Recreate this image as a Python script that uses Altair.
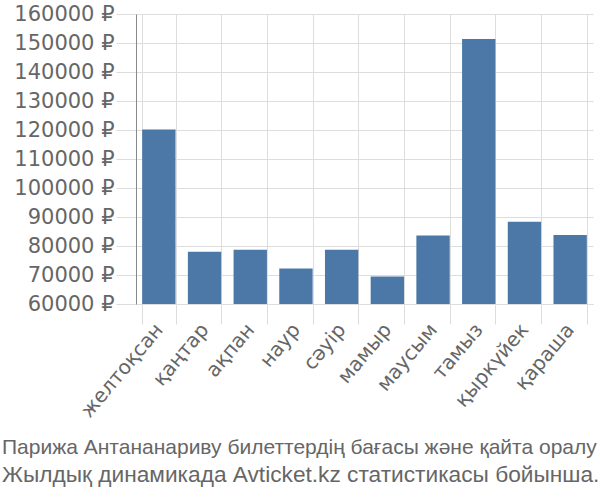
import altair as alt
import pandas as pd

months = ["желтоқсан", "қаңтар", "ақпан", "наур", "сәуір", "мамыр",
          "маусым", "тамыз", "қыркүйек", "қараша"]
prices = [120200, 78000, 78700, 72200, 78700, 69500, 83600, 151400, 88400, 83800]
y_ticks = [60000, 70000, 80000, 90000, 100000, 110000, 120000,
           130000, 140000, 150000, 160000]
title_line = "Парижа Антананариву билеттердің бағасы және қайта оралу"
subtitle_line = "Жылдық динамикада Avticket.kz статистикасы бойынша."

df = pd.DataFrame({"month": months, "price": prices})

AXIS_FONT = "DejaVu Sans"
TITLE_FONT = "Liberation Sans"

chart = alt.Chart(df).mark_bar(color="#4c78a8", clip=True).encode(
    x=alt.X("month:N", sort=months, title=None,
            scale=alt.Scale(paddingInner=0.27, paddingOuter=0.135),
            axis=alt.Axis(labelAngle=-50, labelAlign="right", labelBaseline="middle",
                          labelFontSize=20, labelColor="#666", labelFont=AXIS_FONT,
                          tickSize=20, tickColor="#ddd", tickBand="extent",
                          grid=True, gridColor="#ddd", domainColor="#ddd",
                          labelPadding=2)),
    y=alt.Y("price:Q", title=None,
            scale=alt.Scale(domain=[60000, 160000], zero=False, nice=False),
            axis=alt.Axis(values=y_ticks, labelExpr="datum.value + ' ₽'",
                          labelFontSize=21, labelColor="#666", labelFont=AXIS_FONT,
                          tickSize=20, tickColor="#ddd", gridColor="#ddd",
                          domainColor="#888", labelPadding=2)),
).properties(
    width=457, height=290,
    padding={"left": 136, "top": 14, "right": 7, "bottom": 196},
    autosize=alt.AutoSizeParams(type="none"),
    title=alt.TitleParams(text=title_line, subtitle=subtitle_line,
                          orient="bottom", anchor="start", frame="group",
                          font=TITLE_FONT, fontSize=21, fontWeight="normal",
                          color="#666",
                          subtitleFont=TITLE_FONT, subtitleFontSize=22.7,
                          subtitleColor="#666", subtitlePadding=6,
                          dx=-134, offset=16),
).configure_view(stroke=None)

chart.save("out.html", embed_options={"renderer": "svg", "actions": False})
